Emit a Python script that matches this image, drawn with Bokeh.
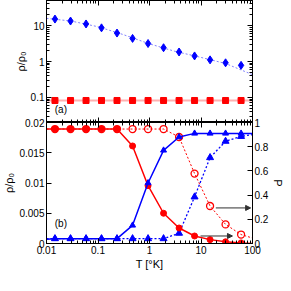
from bokeh.plotting import figure
from bokeh.layouts import column
from bokeh.models import (LogAxis, LinearAxis, FixedTicker, CustomJSTickFormatter,
                          Range1d, Label, Arrow, NormalHead)
from bokeh.embed import file_html
from bokeh.resources import INLINE

# ---------------- data ----------------
T = [0.0146, 0.0293, 0.0586, 0.117, 0.234, 0.469, 0.9375, 1.875, 3.75, 7.5, 15, 30, 60]
T_ends = [0.01, 100]

# panel (a)
rho_blue_top = [15.2, 13.4, 11.1, 8.65, 6.2, 4.4, 3.17, 2.42, 1.84, 1.43, 1.11, 0.92, 0.78]
rho_red_top = [0.082] * 13
fit_T = [0.01, 0.03, 0.1, 0.3, 1, 3, 10, 30, 100]
fit_rho_blue = [15.9, 13.4, 9.3, 5.7, 3.1, 1.95, 1.3, 0.88, 0.43]
fit_rho_red = [0.082] * 9

# panel (b)
P_red_filled = [0.946, 0.946, 0.946, 0.946, 0.946, 0.806, 0.478, 0.25, 0.128, 0.062, 0.032, 0.014, 0.005]
P_red_filled_ends = [0.946, 0.0]
P_red_open = [0.946, 0.946, 0.946, 0.946, 0.946, 0.946, 0.946, 0.946, 0.88, 0.578, 0.31, 0.158, 0.074]
P_red_open_ends = [0.946, 0.045]
rho_blue_filled = [0.0008, 0.0008, 0.0008, 0.0008, 0.0008, 0.003, 0.010, 0.0154, 0.0176, 0.0182, 0.0182, 0.0182, 0.0182]
rho_blue_filled_ends = [0.0007, 0.0182]
rho_blue_open = [0.0008, 0.0008, 0.0008, 0.0008, 0.0008, 0.0008, 0.0008, 0.0008, 0.0017, 0.0077, 0.0142, 0.0169, 0.0177]
rho_blue_open_ends = [0.0008, 0.018]

arrow_T0 = [19.4, 9.8]
arrow_T1 = [92.0, 40.8]
arrow_P = [0.294, 0.062]

x_major = [0.01, 0.1, 1, 10, 100]
x_minor = [m * 10.0 ** e for e in range(-2, 2) for m in range(1, 10)]
y1_major = [0.1, 1, 10]
y1_minor = [m * 10.0 ** e for e in range(-2, 2) for m in range(1, 10) if 0.02 <= m * 10.0 ** e <= 50]
rho_ticks = [0, 0.005, 0.01, 0.015, 0.02]
P_ticks = [0, 0.2, 0.4, 0.6, 0.8, 1]

FONT = "Liberation Sans"
fmt = CustomJSTickFormatter(code="return tick.toString();")
no_fmt = CustomJSTickFormatter(code="return '';")

FW = 206


def style_axis(ax, labels=True):
    ax.major_tick_in = 5
    ax.major_tick_out = 0
    ax.minor_tick_in = 3
    ax.minor_tick_out = 0
    ax.axis_line_color = "black"
    ax.major_tick_line_color = "black"
    ax.minor_tick_line_color = "black"
    ax.major_label_text_font = FONT
    ax.major_label_text_color = "black"
    ax.major_label_text_font_size = "10px" if labels else "1px"
    ax.major_label_standoff = 2 if labels else 0
    ax.axis_label_text_font = FONT
    ax.axis_label_text_font_size = "11px"
    ax.axis_label_text_font_style = "normal"
    ax.axis_label_text_color = "black"
    ax.axis_label_standoff = 1
    ax.formatter = fmt if labels else no_fmt


# ---------------- panel (a) ----------------
p1 = figure(frame_width=FW, frame_height=122, x_axis_type="log", y_axis_type="log",
            x_range=Range1d(0.01, 100), y_range=Range1d(0.02, 50),
            output_backend="svg", toolbar_location=None,
            min_border_left=39, min_border_right=30, min_border_top=0, min_border_bottom=0)
p1.grid.visible = False
p1.outline_line_color = "black"

p1.xaxis[0].ticker = FixedTicker(ticks=x_major, minor_ticks=x_minor)
style_axis(p1.xaxis[0], labels=False)
p1.yaxis[0].ticker = FixedTicker(ticks=y1_major, minor_ticks=y1_minor)
style_axis(p1.yaxis[0])
p1.yaxis[0].axis_label = "ρ/ρ₀"

ax = LogAxis(ticker=FixedTicker(ticks=y1_major, minor_ticks=y1_minor))
style_axis(ax, labels=False)
p1.add_layout(ax, "right")
ax = LogAxis(ticker=FixedTicker(ticks=x_major, minor_ticks=x_minor))
style_axis(ax, labels=False)
p1.add_layout(ax, "above")

p1.line(fit_T, fit_rho_red, line_color="#ffb0b0", line_width=2)
p1.line(fit_T, fit_rho_blue, line_color="#8080ff", line_width=1, line_dash="2 2")
p1.scatter(T, rho_red_top, marker="square", size=6, color="#ff0000")
p1.scatter(T, rho_blue_top, marker="diamond", size=8, color="#0000ff")
p1.add_layout(Label(x=0.019, y=0.047, text="(a)", text_align="center", text_baseline="middle",
                    text_font=FONT, text_font_size="10px", text_color="black"))

# ---------------- panel (b) ----------------
p2 = figure(frame_width=FW, frame_height=121, x_axis_type="log",
            x_range=Range1d(0.01, 100), y_range=Range1d(0, 1), y_axis_location="right",
            output_backend="svg", toolbar_location=None,
            min_border_left=39, min_border_right=30, min_border_top=6, min_border_bottom=0)
p2.extra_y_ranges = {"rho": Range1d(0, 0.02)}
p2.grid.visible = False
p2.outline_line_color = "black"
p2.border_fill_color = None
p2.margin = (-6, 0, 0, 0)

p2.xaxis[0].ticker = FixedTicker(ticks=x_major, minor_ticks=x_minor)
style_axis(p2.xaxis[0])
p2.xaxis[0].axis_label = "T [°K]"
p2.yaxis[0].ticker = FixedTicker(ticks=P_ticks, minor_ticks=[])
style_axis(p2.yaxis[0])
p2.yaxis[0].axis_label = "P"

ax = LinearAxis(y_range_name="rho", ticker=FixedTicker(ticks=rho_ticks, minor_ticks=[]))
style_axis(ax)
ax.axis_label = "ρ/ρ₀"
p2.add_layout(ax, "left")
ax = LogAxis(ticker=FixedTicker(ticks=x_major, minor_ticks=x_minor))
style_axis(ax, labels=False)
p2.add_layout(ax, "above")


def ext(vals, ends):
    return [ends[0]] + list(vals) + [ends[1]]


T_line = ext(T, T_ends)
RED, BLUE = "#ff0000", "#0000ff"

p2.line(T_line, ext(P_red_open, P_red_open_ends), line_color=RED, line_width=1, line_dash="2 2")
p2.scatter(T, P_red_open, marker="circle", size=7, fill_color=None, line_color=RED, line_width=1.3)
p2.line(T_line, ext(rho_blue_open, rho_blue_open_ends), y_range_name="rho",
        line_color=BLUE, line_width=1.3, line_dash="2 2")
p2.scatter(T, rho_blue_open, y_range_name="rho", marker="triangle", size=7, color=BLUE)
p2.line(T_line, ext(P_red_filled, P_red_filled_ends), line_color=RED, line_width=1.5)
p2.scatter(T, P_red_filled, marker="circle", size=6, color=RED)
p2.line(T_line, ext(rho_blue_filled, rho_blue_filled_ends), y_range_name="rho",
        line_color=BLUE, line_width=1.5)
p2.scatter(T, rho_blue_filled, y_range_name="rho", marker="triangle", size=6, color=BLUE)

for i in range(len(arrow_P)):
    p2.add_layout(Arrow(x_start=arrow_T0[i], y_start=arrow_P[i], x_end=arrow_T1[i], y_end=arrow_P[i],
                        line_color="#303030", line_width=1,
                        end=NormalHead(size=5, fill_color="#303030", line_color="#303030")))

p2.add_layout(Label(x=0.019, y=0.168, text="(b)", text_align="center", text_baseline="middle",
                    text_font=FONT, text_font_size="10px", text_color="black"))

layout = column(p1, p2, spacing=0)
open("out.html", "w").write(file_html(layout, INLINE))
